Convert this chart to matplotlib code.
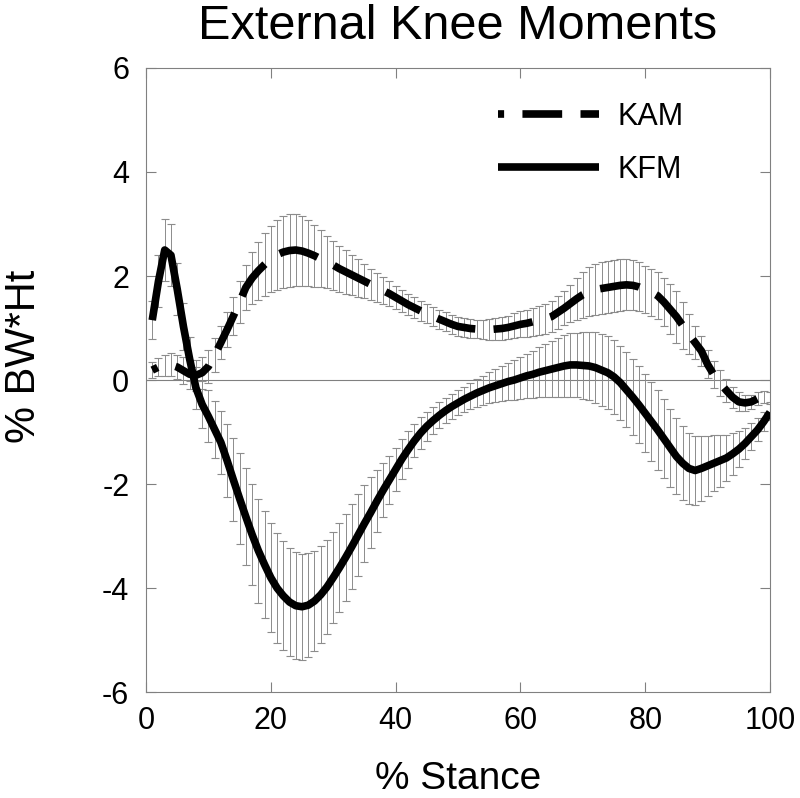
import matplotlib
matplotlib.use("Agg")
import matplotlib.pyplot as plt

plt.rcParams['font.family'] = ['Liberation Sans', 'DejaVu Sans']

# % stance, one sample per percent
stance = list(range(1, 101))

# knee adduction moment, mean and SD (% BW*Ht)
kam_mean = [
    0.19, 0.25, 0.28, 0.29, 0.25, 0.18, 0.11, 0.09, 0.14, 0.26,
    0.48, 0.72, 0.97, 1.23, 1.50, 1.78, 1.96, 2.10, 2.22, 2.33,
    2.41, 2.46, 2.49, 2.50, 2.48, 2.44, 2.39, 2.33, 2.27, 2.21,
    2.14, 2.08, 2.02, 1.96, 1.90, 1.84, 1.78, 1.72, 1.66, 1.59,
    1.52, 1.45, 1.39, 1.33, 1.28, 1.22, 1.17, 1.12, 1.07, 1.03,
    1.01, 0.99, 0.98, 0.97, 0.97, 0.98, 0.99, 1.01, 1.04, 1.07,
    1.09, 1.12, 1.15, 1.18, 1.22, 1.30, 1.38, 1.47, 1.56, 1.64,
    1.70, 1.74, 1.76, 1.78, 1.80, 1.82, 1.83, 1.82, 1.79, 1.74,
    1.69, 1.62, 1.50, 1.36, 1.22, 1.05, 0.88, 0.72, 0.56, 0.30,
    0.10, -0.06, -0.20, -0.33, -0.42, -0.44, -0.42, -0.36, -0.33, -0.33,
]
kam_sd = [
    0.15, 0.18, 0.20, 0.22, 0.24, 0.26, 0.28, 0.30, 0.31, 0.32,
    0.32, 0.32, 0.33, 0.36, 0.40, 0.44, 0.50, 0.56, 0.61, 0.64,
    0.67, 0.69, 0.70, 0.70, 0.68, 0.64, 0.60, 0.55, 0.50, 0.47,
    0.44, 0.42, 0.39, 0.36, 0.33, 0.30, 0.28, 0.26, 0.24, 0.22,
    0.21, 0.20, 0.20, 0.19, 0.19, 0.18, 0.18, 0.18, 0.18, 0.18,
    0.18, 0.18, 0.18, 0.19, 0.20, 0.21, 0.22, 0.23, 0.24, 0.25,
    0.26, 0.27, 0.28, 0.29, 0.30, 0.31, 0.33, 0.36, 0.40, 0.44,
    0.47, 0.49, 0.50, 0.50, 0.50, 0.50, 0.49, 0.48, 0.47, 0.46,
    0.45, 0.45, 0.46, 0.48, 0.50, 0.45, 0.38, 0.32, 0.29, 0.27,
    0.26, 0.25, 0.22, 0.20, 0.18, 0.16, 0.14, 0.12, 0.11, 0.10,
]

# knee flexion moment, mean and SD (% BW*Ht)
kfm_mean = [
    1.15, 1.90, 2.50, 2.40, 1.75, 1.03, 0.40, -0.15, -0.47, -0.70,
    -0.95, -1.20, -1.55, -1.92, -2.28, -2.63, -2.97, -3.28, -3.55, -3.80,
    -4.00, -4.15, -4.27, -4.34, -4.36, -4.33, -4.25, -4.13, -3.98, -3.80,
    -3.61, -3.41, -3.20, -2.98, -2.76, -2.55, -2.33, -2.12, -1.92, -1.72,
    -1.52, -1.34, -1.17, -1.02, -0.89, -0.78, -0.68, -0.59, -0.51, -0.44,
    -0.37, -0.31, -0.25, -0.20, -0.15, -0.11, -0.07, -0.03, 0.00, 0.04,
    0.08, 0.11, 0.15, 0.18, 0.21, 0.24, 0.27, 0.29, 0.29, 0.28,
    0.27, 0.24, 0.19, 0.14, 0.06, -0.05, -0.19, -0.33, -0.48, -0.64,
    -0.80, -0.96, -1.13, -1.30, -1.47, -1.60, -1.70, -1.74, -1.70, -1.65,
    -1.60, -1.55, -1.50, -1.42, -1.33, -1.22, -1.09, -0.96, -0.80, -0.62,
]
kfm_sd = [
    0.37, 0.50, 0.60, 0.60, 0.50, 0.46, 0.42, 0.40, 0.45, 0.50,
    0.55, 0.60, 0.70, 0.80, 0.88, 0.93, 0.97, 1.00, 1.03, 1.05,
    1.05, 1.05, 1.04, 1.03, 1.02, 1.00, 0.97, 0.93, 0.90, 0.88,
    0.86, 0.84, 0.82, 0.78, 0.74, 0.68, 0.60, 0.52, 0.46, 0.42,
    0.38, 0.35, 0.32, 0.30, 0.28, 0.26, 0.25, 0.24, 0.24, 0.24,
    0.24, 0.25, 0.26, 0.28, 0.30, 0.32, 0.34, 0.36, 0.38, 0.40,
    0.42, 0.45, 0.48, 0.51, 0.54, 0.57, 0.59, 0.61, 0.62, 0.64,
    0.66, 0.68, 0.69, 0.70, 0.71, 0.71, 0.72, 0.73, 0.74, 0.75,
    0.76, 0.77, 0.76, 0.75, 0.73, 0.71, 0.69, 0.66, 0.62, 0.58,
    0.54, 0.50, 0.45, 0.40, 0.35, 0.30, 0.26, 0.22, 0.18, 0.15,
]

x_ticks = [0, 20, 40, 60, 80, 100]
y_ticks = [-6, -4, -2, 0, 2, 4, 6]

fig = plt.figure(figsize=(8, 7.98), dpi=100)
ax = fig.add_axes([0.1825, 0.1328, 0.78, 0.782])

ax.axhline(0, color='#808080', lw=0.8, zorder=1)

# SD bars first, mean curves on top
err_style = dict(fmt='none', ecolor='#8c8c8c', elinewidth=0.7, capsize=3, capthick=0.8, zorder=2)
ax.errorbar(stance, kam_mean, yerr=kam_sd, **err_style)
ax.errorbar(stance, kfm_mean, yerr=kfm_sd, **err_style)

ax.plot(stance, kam_mean, color='black', lw=5.5, linestyle=(4.4, (5.2, 2.4)),
        dash_capstyle='butt', label='KAM', zorder=3)
ax.plot(stance, kfm_mean, color='black', lw=5.5, solid_capstyle='butt', label='KFM', zorder=3)

ax.set_xlim(0, 100)
ax.set_ylim(-6, 6)
ax.set_xticks(x_ticks)
ax.set_yticks(y_ticks)
ax.set_xticklabels([str(v) for v in x_ticks])
ax.set_yticklabels([str(v) for v in y_ticks])

for s in ax.spines.values():
    s.set_color('#808080')
    s.set_linewidth(0.8)
ax.tick_params(direction='in', length=7, width=0.8, color='#808080',
               top=True, right=True, labelsize=22)
ax.tick_params(axis='y', pad=12)
ax.tick_params(axis='x', pad=10)

ax.set_xlabel('% Stance', fontsize=28, labelpad=18)
ax.set_ylabel('% BW*Ht', fontsize=30)
ax.yaxis.set_label_coords(-0.163, 0.538)
ax.set_title('External Knee Moments', fontsize=35, pad=21)

ax.legend(loc='upper right', bbox_to_anchor=(0.905, 0.99), frameon=False, fontsize=22,
          handlelength=3.3, handletextpad=0.6, labelspacing=0.75)

fig.savefig('out.png', dpi=100)
